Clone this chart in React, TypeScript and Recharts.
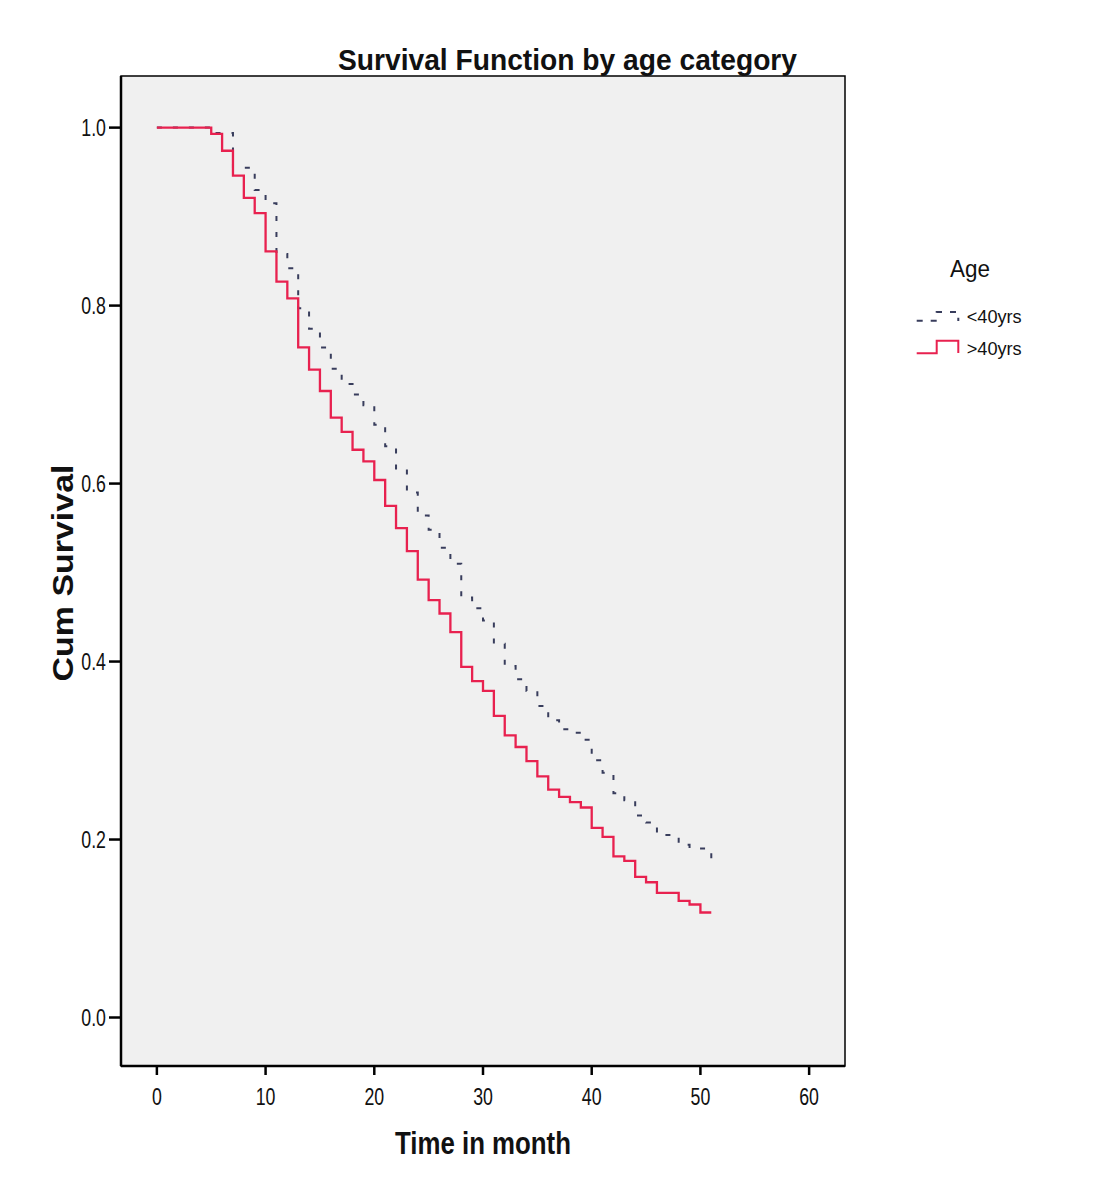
import React from 'react';
import { LineChart, Line, XAxis, YAxis, ReferenceArea } from 'recharts';

// <40yrs group (dashed), step changes at these months
const youngMonths = [0, 5, 7, 9, 10, 11, 12, 13, 14, 15, 16, 17, 18, 19, 20, 21, 22, 23, 24, 25, 26, 27, 28, 29, 30, 31, 32, 33, 34, 35, 36, 37, 38, 39, 40, 41, 42, 43, 44, 45, 46, 48, 49, 51];
const youngSurvival = [1.0, 0.994, 0.955, 0.93, 0.915, 0.858, 0.842, 0.797, 0.774, 0.753, 0.729, 0.712, 0.7, 0.688, 0.666, 0.642, 0.617, 0.59, 0.564, 0.548, 0.528, 0.51, 0.472, 0.46, 0.446, 0.42, 0.395, 0.38, 0.367, 0.35, 0.334, 0.324, 0.32, 0.312, 0.289, 0.275, 0.252, 0.244, 0.227, 0.219, 0.205, 0.194, 0.19, 0.176];

// >40yrs group (solid red)
const olderMonths = [0, 5, 6, 7, 8, 9, 10, 11, 12, 13, 14, 15, 16, 17, 18, 19, 20, 21, 22, 23, 24, 25, 26, 27, 28, 29, 30, 31, 32, 33, 34, 35, 36, 37, 38, 39, 40, 41, 42, 43, 44, 45, 46, 48, 49, 50, 51];
const olderSurvival = [1.0, 0.993, 0.974, 0.946, 0.921, 0.904, 0.861, 0.827, 0.808, 0.753, 0.728, 0.704, 0.674, 0.658, 0.638, 0.625, 0.604, 0.575, 0.55, 0.524, 0.492, 0.469, 0.454, 0.433, 0.394, 0.378, 0.367, 0.339, 0.317, 0.304, 0.288, 0.271, 0.256, 0.248, 0.242, 0.236, 0.213, 0.203, 0.181, 0.176, 0.158, 0.152, 0.14, 0.131, 0.127, 0.118, 0.118];

const xTicks = [0, 10, 20, 30, 40, 50, 60];
const yTicks = [0, 0.2, 0.4, 0.6, 0.8, 1.0];

const X_DOMAIN: [number, number] = [-3.3, 63.3];
const Y_DOMAIN: [number, number] = [-0.0545, 1.058];

const RED = '#e8214f';
const NAVY = '#383d5c';
const FONT = '"Liberation Sans", Arial, sans-serif';

const youngData = youngMonths.map((t, i) => ({ t, s: youngSurvival[i] }));
const olderData = olderMonths.map((t, i) => ({ t, s: olderSurvival[i] }));

const W = 1100;
const H = 1170;

// narrow-looking tick text: squeeze glyphs to ~74% of regular width
const tickWidth = (str: string, size: number) =>
  str.split('').reduce((w, c) => w + (c === '.' ? 0.278 : 0.556), 0) * size * 0.74;

const YTick = (props: any) => {
  const label = Number(props.payload.value).toFixed(1);
  return (
    <text x={props.x} y={props.y} dy="0.36em" textAnchor="end" fontFamily={FONT} fontSize={24}
      fill="#111" textLength={tickWidth(label, 24)} lengthAdjust="spacingAndGlyphs">
      {label}
    </text>
  );
};

const XTick = (props: any) => {
  const label = String(props.payload.value);
  return (
    <text x={props.x} y={props.y + 28} textAnchor="middle" fontFamily={FONT} fontSize={24}
      fill="#111" textLength={tickWidth(label, 24)} lengthAdjust="spacingAndGlyphs">
      {label}
    </text>
  );
};

export default function App() {
  return (
    <div style={{ position: 'relative', width: W, height: H, background: '#fff' }}>
      <LineChart width={W} height={H} margin={{ top: 68, right: 263, bottom: 62, left: 53 }}>
        <ReferenceArea
          x1={X_DOMAIN[0]} x2={X_DOMAIN[1]} y1={Y_DOMAIN[0]} y2={Y_DOMAIN[1]}
          fill="#f0f0f0" fillOpacity={1} stroke="#000" strokeWidth={1.5} ifOverflow="visible"
        />
        <XAxis
          dataKey="t" type="number" domain={X_DOMAIN} ticks={xTicks} allowDataOverflow
          height={50} tickSize={9} axisLine={{ stroke: '#000', strokeWidth: 2.5 }}
          tickLine={{ stroke: '#000', strokeWidth: 2.5 }} tick={<XTick />}
        />
        <YAxis
          type="number" domain={Y_DOMAIN} ticks={yTicks} allowDataOverflow
          width={60} tickSize={12} tickMargin={3} axisLine={{ stroke: '#000', strokeWidth: 2.5 }}
          tickLine={{ stroke: '#000', strokeWidth: 2.5 }} tick={<YTick />}
        />
        <Line
          data={youngData} dataKey="s" type="stepAfter" stroke={NAVY} strokeWidth={2}
          strokeDasharray="5 11" dot={false} activeDot={false} isAnimationActive={false}
        />
        <Line
          data={olderData} dataKey="s" type="stepAfter" stroke={RED} strokeWidth={2.3}
          dot={false} activeDot={false} isAnimationActive={false}
        />
      </LineChart>

      <svg width={W} height={H} style={{ position: 'absolute', left: 0, top: 0, pointerEvents: 'none' }}>
        <text x={559.5} y={62} textAnchor="middle" fontFamily={FONT} fontWeight="bold" fontSize={30}
          fill="#111" textLength={459} lengthAdjust="spacingAndGlyphs">
          Survival Function by age category
        </text>
        <text transform="translate(54 565) rotate(-90)" textAnchor="middle" dominantBaseline="central"
          fontFamily={FONT} fontWeight="bold" fontSize={30} fill="#111" textLength={217}
          lengthAdjust="spacingAndGlyphs">
          Cum Survival
        </text>
        <text x={475} y={1146} textAnchor="middle" fontFamily={FONT} fontWeight="bold" fontSize={31}
          fill="#111" textLength={176} lengthAdjust="spacingAndGlyphs">
          Time in month
        </text>

        {/* legend */}
        <text x={942} y={268.7} fontFamily={FONT} fontSize={23} fill="#111" textLength={40}
          lengthAdjust="spacingAndGlyphs">
          Age
        </text>
        <path d="M 908.7 312.7 H 928.7 V 304 H 950.3 V 313" fill="none" stroke={NAVY}
          strokeWidth={2} strokeDasharray="6 8" />
        <text x={958.7} y={314.7} fontFamily={FONT} fontSize={19} fill="#111" textLength={55}
          lengthAdjust="spacingAndGlyphs">
          {'<40yrs'}
        </text>
        <path d="M 908.7 345.3 H 928.7 V 332.7 H 950.3 V 345" fill="none" stroke={RED} strokeWidth={2} />
        <text x={958.7} y={347} fontFamily={FONT} fontSize={19} fill="#111" textLength={55}
          lengthAdjust="spacingAndGlyphs">
          {'>40yrs'}
        </text>
      </svg>
    </div>
  );
}
